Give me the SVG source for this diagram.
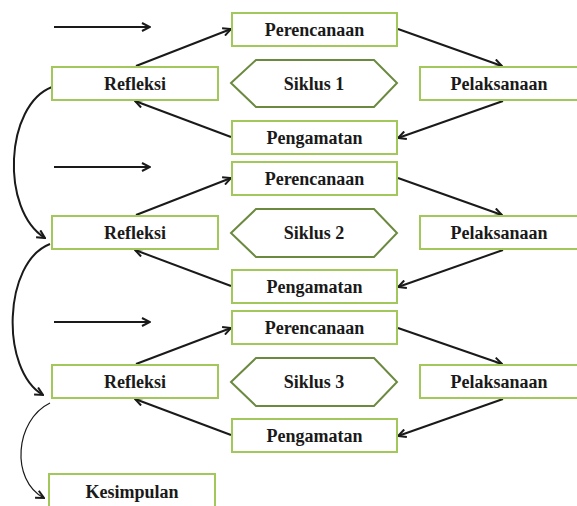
<svg xmlns="http://www.w3.org/2000/svg" width="577" height="506" viewBox="0 0 577 506">
<style>
.box{fill:#fff;stroke:#a2c75a;stroke-width:2}
.hex{fill:#fff;stroke:#6b8a40;stroke-width:2}
.t{font-family:"Liberation Serif","Times New Roman",serif;font-weight:bold;font-size:18px;fill:#1a1a1a;text-anchor:middle;dominant-baseline:central}
.c{fill:none;stroke:#1a1a1a;stroke-width:2;marker-end:url(#ah)}
.thin{stroke-width:1.2}
</style>
<defs>
<marker id="ah" viewBox="0 0 10 10" refX="9" refY="5" markerWidth="10" markerHeight="10" markerUnits="userSpaceOnUse" orient="auto">
<path d="M1,1 L9,5 L1,9" fill="none" stroke="#1a1a1a" stroke-width="2"/>
</marker>
</defs>
<g id="connectors">
<path class="c" d="M54,27 H150"/>
<path class="c" d="M136,66 L231,29"/>
<path class="c" d="M398,29 L502,66"/>
<path class="c" d="M503,101 L398,138"/>
<path class="c" d="M231,137 L135,101"/>
<path class="c" d="M54,167 H150"/>
<path class="c" d="M136,215 L231,178"/>
<path class="c" d="M398,178 L502,215"/>
<path class="c" d="M503,250 L398,287"/>
<path class="c" d="M231,286 L135,250"/>
<path class="c" d="M54,322 H150"/>
<path class="c" d="M136,364 L231,328"/>
<path class="c" d="M398,328 L502,364"/>
<path class="c" d="M503,399 L398,436"/>
<path class="c" d="M231,435 L135,399"/>
<path class="c" d="M52,87 C5,105 0,210 45,238"/>
<path class="c" d="M50,244 C3,262 0,370 43,395"/>
<path class="c thin" d="M50,403 C15,420 10,480 44,498"/>
</g>
<g id="perencanaan1"><rect class="box" x="232" y="13" width="165" height="33"/><text class="t" x="314.5" y="29.5">Perencanaan</text></g>
<g id="refleksi1"><rect class="box" x="52" y="67" width="166" height="33"/><text class="t" x="135" y="83.5">Refleksi</text></g>
<g id="siklus1"><polygon class="hex" points="231,83 256,60 374,60 397,83 374,107 256,107"/><text class="t" x="314" y="83.5">Siklus 1</text></g>
<g id="pelaksanaan1"><rect class="box" x="420" y="67" width="160" height="33"/><text class="t" x="499" y="83.5">Pelaksanaan</text></g>
<g id="pengamatan1"><rect class="box" x="232" y="121" width="165" height="33"/><text class="t" x="314.5" y="137.5">Pengamatan</text></g>

<g id="perencanaan2"><rect class="box" x="232" y="162" width="165" height="33"/><text class="t" x="314.5" y="178.5">Perencanaan</text></g>
<g id="refleksi2"><rect class="box" x="52" y="216" width="166" height="33"/><text class="t" x="135" y="232.5">Refleksi</text></g>
<g id="siklus2"><polygon class="hex" points="231,233 256,209 374,209 397,233 374,257 256,257"/><text class="t" x="314" y="233">Siklus 2</text></g>
<g id="pelaksanaan2"><rect class="box" x="420" y="216" width="160" height="33"/><text class="t" x="499" y="232.5">Pelaksanaan</text></g>
<g id="pengamatan2"><rect class="box" x="232" y="270" width="165" height="33"/><text class="t" x="314.5" y="286.5">Pengamatan</text></g>

<g id="perencanaan3"><rect class="box" x="232" y="311" width="165" height="33"/><text class="t" x="314.5" y="327.5">Perencanaan</text></g>
<g id="refleksi3"><rect class="box" x="52" y="365" width="166" height="33"/><text class="t" x="135" y="381.5">Refleksi</text></g>
<g id="siklus3"><polygon class="hex" points="231,382 256,358 374,358 397,382 374,406 256,406"/><text class="t" x="314" y="382">Siklus 3</text></g>
<g id="pelaksanaan3"><rect class="box" x="420" y="365" width="160" height="33"/><text class="t" x="499" y="381.5">Pelaksanaan</text></g>
<g id="pengamatan3"><rect class="box" x="232" y="419" width="165" height="33"/><text class="t" x="314.5" y="435.5">Pengamatan</text></g>

<g id="kesimpulan"><rect class="box" x="49" y="474" width="166" height="40"/><text class="t" x="132" y="492">Kesimpulan</text></g>
</svg>
